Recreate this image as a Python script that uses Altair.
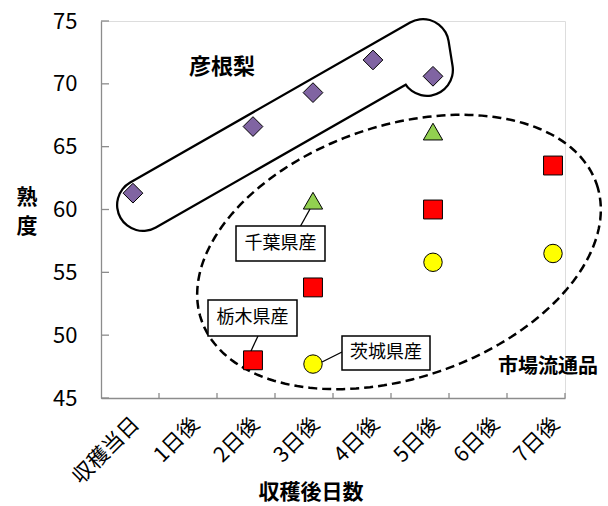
import altair as alt
import pandas as pd
import numpy as np

FONT = "Noto Sans CJK JP"

# ---- data ----
days = ["収穫当日", "1日後", "2日後", "3日後", "4日後", "5日後", "6日後", "7日後"]
series_names = ["彦根梨", "千葉県産", "栃木県産", "茨城県産"]
hikone_day = [0, 2, 3, 4, 5]
hikone_val = [61.3, 66.6, 69.3, 71.9, 70.6]
chiba_day = [3, 5]
chiba_val = [60.7, 66.2]
tochigi_day = [2, 3, 5, 7]
tochigi_val = [48.0, 53.8, 60.0, 63.5]
ibaraki_day = [3, 5, 7]
ibaraki_val = [47.7, 55.8, 56.5]
y_ticks = [45, 50, 55, 60, 65, 70, 75]

# ---- geometry ----
W, H = 464, 377
X_DOM = [-0.533, 7.2]
Y_DOM = [45, 75]
AX_DOM = [0, 8]


def xd(px):
    return X_DOM[0] + px / W * (X_DOM[1] - X_DOM[0])


def yd(py):
    return Y_DOM[1] - py / H * (Y_DOM[1] - Y_DOM[0])


rows = []
for name, ds, vs in [("彦根梨", hikone_day, hikone_val), ("千葉県産", chiba_day, chiba_val),
                     ("栃木県産", tochigi_day, tochigi_val), ("茨城県産", ibaraki_day, ibaraki_val)]:
    for d, v in zip(ds, vs):
        rows.append({"day": d, "value": v, "series": name})
df_pts = pd.DataFrame(rows)

xs = alt.Scale(domain=X_DOM, nice=False, zero=False)
ys = alt.Scale(domain=Y_DOM, nice=False, zero=False)
AXIS_GRAY = "#8c8c8c"
yaxis = alt.Axis(values=y_ticks, title=None, ticks=False, labelPadding=24, labelFontSize=22,
                 labelFont=FONT, labelColor="black", domainColor=AXIS_GRAY, domainWidth=1.3,
                 grid=False)

label_expr = "[" + ",".join("'" + d + "'" for d in days) + "][round(datum.value)]"
xaxis = alt.Axis(values=list(range(len(days))), labelExpr=label_expr, ticks=False, orient="bottom",
                 labelAngle=-45, labelAlign="right", labelBaseline="top", labelPadding=15,
                 labelOffset=-5, labelFontSize=21, labelFont=FONT, labelColor="black",
                 domainColor=AXIS_GRAY, domainWidth=1.3, title=None, grid=False)


def X(f):
    return alt.X(f, type="quantitative", scale=xs, axis=None)


def Y(f):
    return alt.Y(f, type="quantitative", scale=ys, axis=yaxis)


# dashed ellipse (market products)
cx, cy, ea, eb, phi = 298, 231, 209, 126, np.deg2rad(-19)
t = np.linspace(0, 2 * np.pi, 181)
u, v = ea * np.cos(t), eb * np.sin(t)
ex = cx + u * np.cos(phi) - v * np.sin(phi)
ey = cy + u * np.sin(phi) + v * np.cos(phi)
df_ell = pd.DataFrame({"x": [xd(p) for p in ex], "y": [yd(p) for p in ey], "o": range(len(t))})
ellipse = alt.Chart(df_ell).mark_line(color="black", strokeWidth=2.5, strokeDash=[9, 5]).encode(
    x=X("x"), y=Y("y"), order="o:Q")

# capsule outline around 彦根梨
cap_px = [(42, 184), (322, 24), (326, 49)]
df_cap = pd.DataFrame({"x": [xd(p[0]) for p in cap_px], "y": [yd(p[1]) for p in cap_px],
                       "o": range(len(cap_px))})
cap_outer = alt.Chart(df_cap).mark_line(color="black", strokeWidth=54, strokeCap="round",
                                        strokeJoin="round").encode(x=X("x"), y=Y("y"), order="o:Q")
cap_inner = alt.Chart(df_cap).mark_line(color="white", strokeWidth=49.5, strokeCap="round",
                                        strokeJoin="round").encode(x=X("x"), y=Y("y"), order="o:Q")

# points (this layer carries the category labels)
points = alt.Chart(df_pts).mark_point(filled=True, stroke="black", strokeWidth=1, opacity=1).encode(
    x=alt.X("day", type="quantitative", scale=xs, axis=xaxis), y=Y("value"),
    shape=alt.Shape("series:N", scale=alt.Scale(domain=series_names,
                                                  range=["diamond", "triangle-up", "square", "circle"]),
                    legend=None),
    fill=alt.Fill("series:N", scale=alt.Scale(domain=series_names,
                                                range=["#8064A2", "#92D050", "#FF0000", "#FFFF00"]),
                  legend=None),
    size=alt.Size("series:N", scale=alt.Scale(domain=series_names, range=[390, 340, 320, 330]),
                  legend=None),
)

# callouts
boxes_px = [("千葉県産", 135, 205, 224, 240), ("栃木県産", 107, 279, 196, 315),
            ("茨城県産", 241, 315, 329, 349)]
df_box = pd.DataFrame({
    "label": [b[0] for b in boxes_px],
    "x1": [xd(b[1]) for b in boxes_px], "y1": [yd(b[2]) for b in boxes_px],
    "x2": [xd(b[3]) for b in boxes_px], "y2": [yd(b[4]) for b in boxes_px],
    "xc": [xd((b[1] + b[3]) / 2) for b in boxes_px], "yc": [yd((b[2] + b[4]) / 2) for b in boxes_px],
})
leads_px = [(199, 206, 209, 188), (157, 315, 150, 330), (241, 331, 221, 341)]
df_lead = pd.DataFrame({
    "x1": [xd(l[0]) for l in leads_px], "y1": [yd(l[1]) for l in leads_px],
    "x2": [xd(l[2]) for l in leads_px], "y2": [yd(l[3]) for l in leads_px],
})
leads = alt.Chart(df_lead).mark_rule(color="black", strokeWidth=1.3).encode(
    x=X("x1"), y=Y("y1"), x2="x2", y2="y2")
boxes = alt.Chart(df_box).mark_rect(fill="white", stroke="black", strokeWidth=1.5).encode(
    x=X("x1"), y=Y("y1"), x2="x2", y2="y2")
box_text = alt.Chart(df_box).mark_text(font=FONT, fontSize=18, color="black").encode(
    x=X("xc"), y=Y("yc"), text="label:N")

# group labels
df_grp = pd.DataFrame({"label": ["彦根梨", "市場流通品"], "x": [xd(121), xd(447)], "y": [yd(46), yd(346)],
                       "fs": [22, 20]})
grp_text = alt.Chart(df_grp).mark_text(font=FONT, fontWeight="bold", color="black").encode(
    x=X("x"), y=Y("y"), text="label:N", size=alt.Size("fs:Q", scale=None, legend=None))

# inward ticks at category edges
df_xt = pd.DataFrame({"b": list(range(1, len(days) + 1))})
xticks = alt.Chart(df_xt).mark_rule(color=AXIS_GRAY, strokeWidth=1.3).encode(
    x=alt.X("b:Q", scale=alt.Scale(domain=AX_DOM, nice=False, zero=False), axis=None),
    y=alt.value(H), y2=alt.value(H - 5))

df_yt = pd.DataFrame({"v": y_ticks})
yticks = alt.Chart(df_yt).mark_rule(color=AXIS_GRAY, strokeWidth=1.3).encode(
    y=Y("v"), x=alt.value(0), x2=alt.value(8))

# axis titles
xtitle = alt.Chart(pd.DataFrame({"t": ["収穫後日数"]})).mark_text(
    font=FONT, fontSize=21, fontWeight="bold", color="black").encode(
    text="t:N", x=alt.value(210), y=alt.value(472))
ytitle = alt.Chart(pd.DataFrame({"t": ["熟", "度"], "py": [177, 206]})).mark_text(
    font=FONT, fontSize=21, fontWeight="bold", color="black").encode(
    text="t:N", x=alt.value(-74), y=alt.Y("py:Q", scale=None))

chart = alt.layer(
    xticks, yticks, ellipse, cap_outer, cap_inner, points, leads, boxes, box_text, grp_text,
    xtitle, ytitle
).resolve_scale(x="independent").properties(
    width=W, height=H,
    autosize=alt.AutoSizeParams(type="none"),
    padding={"left": 101, "top": 21, "right": 43, "bottom": 108},
).configure_view(stroke=None).configure(background="white")

chart.save("out.html", embed_options={"renderer": "svg", "actions": False})
